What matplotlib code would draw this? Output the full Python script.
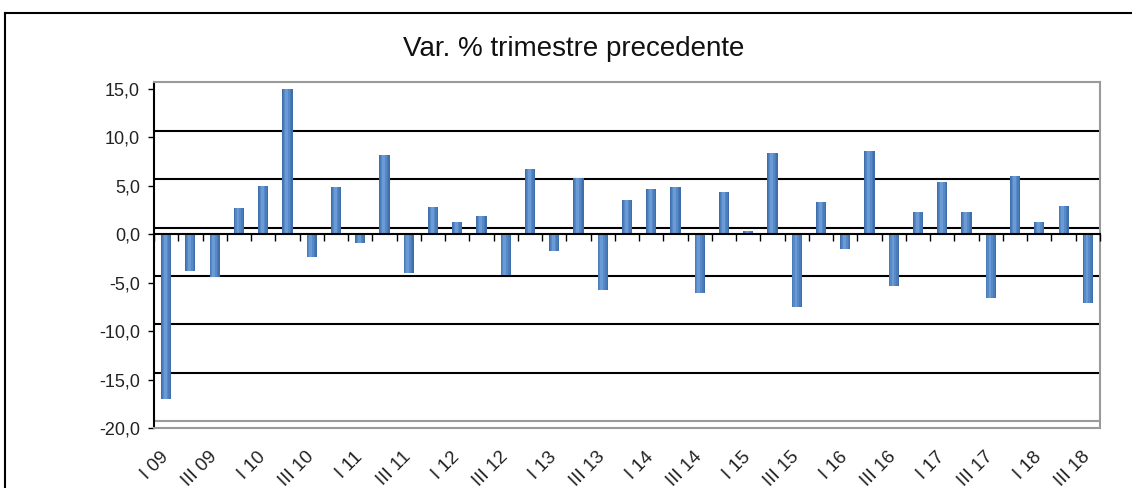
import numpy as np
import matplotlib.pyplot as plt
from matplotlib.lines import Line2D
from matplotlib.transforms import ScaledTranslation

plt.rcParams['font.family'] = ['Liberation Sans', 'DejaVu Sans']

years = ["09", "10", "11", "12", "13", "14", "15", "16", "17", "18"]
roman = ["I", "II", "III", "IV"]
quarters = [f"{q} {y}" for y in years for q in roman][:39]
values = [-17.0, -3.8, -4.4, 2.7, 5.0, 15.0, -2.4, 4.9, -0.9, 8.2,
          -4.0, 2.8, 1.3, 1.9, -4.2, 6.7, -1.7, 5.8, -5.8, 3.5,
          4.7, 4.9, -6.1, 4.4, 0.3, 8.4, -7.5, 3.3, -1.5, 8.6,
          -5.4, 2.3, 5.4, 2.3, -6.6, 6.0, 1.3, 2.9, -7.1]
yticks = [15, 10, 5, 0, -5, -10, -15, -20]
ytick_labels = ["15,0", "10,0", "5,0", "0,0", "-5,0", "-10,0", "-15,0", "-20,0"]
title = "Var. % trimestre precedente"

W, H = 1132, 488
fig = plt.figure(figsize=(W / 100, H / 100), dpi=100)
ax = fig.add_axes([154 / W, 1 - 428 / H, (1100 - 154) / W, (428 - 82) / H])

n = len(values)
x = np.arange(n)
ax.set_xlim(-0.5, n - 0.5)
ax.set_ylim(-20, 15.7)

# back wall of the 3d chart sits a few pixels higher
back = ax.transData + ScaledTranslation(0, 0.066, fig.dpi_scale_trans)
ax.hlines(yticks[1:-1], -0.5, n - 0.5, colors='black', lw=1.5, transform=back, zorder=1)
ax.hlines(yticks[-1], -0.5, n - 0.5, colors='#9a9a9a', lw=1.5, transform=back, zorder=1)

# cylinder-ish bars: stack narrower, lighter bars on top
shades = [(1.0, '#3f6eaa', 0.0), (0.8, '#4a7cba', -0.012),
          (0.55, '#5789c7', -0.025), (0.28, '#6b9bd6', -0.035)]
for frac, col, dx in shades:
    ax.bar(x + dx, values, width=0.42 * frac, color=col, lw=0, zorder=3)

# axis through zero with ticks between the categories
zero = ax.secondary_xaxis(0, transform=ax.transData)
zero.set_xticks(np.arange(n + 1) - 0.5)
zero.tick_params(axis='x', length=5, width=1, direction='out', colors='black',
                 labelbottom=False, labeltop=False)
zero.spines['bottom'].set_linewidth(1.5)
zero.spines['bottom'].set_color('black')
zero.set_zorder(4)

ax.set_yticks(yticks)
ax.set_yticklabels(ytick_labels)
ax.tick_params(axis='y', length=4, width=1, pad=6, labelsize=13, colors='black',
               labelcolor='#222222')

ax.set_xticks(x[::2])
ax.set_xticklabels(quarters[::2], rotation=45, ha='right', va='center',
                   rotation_mode='anchor', fontsize=13.5, color='#222222')
ax.tick_params(axis='x', length=0, pad=19)

ax.spines['left'].set_color('black')
ax.spines['left'].set_linewidth(1.5)
for s in ['top', 'right', 'bottom']:
    ax.spines[s].set_color('#9a9a9a')
    ax.spines[s].set_linewidth(1.5)

fig.text(574 / W, 1 - 49 / H, title, ha='center', va='center', fontsize=20, color='#111111')

# outer frame
fig.add_artist(Line2D([5 / W, 1], [1 - 13 / H, 1 - 13 / H], color='black', lw=1.5))
fig.add_artist(Line2D([5 / W, 5 / W], [0, 1 - 13 / H], color='black', lw=1.5))

fig.savefig("out.png", dpi=100)
